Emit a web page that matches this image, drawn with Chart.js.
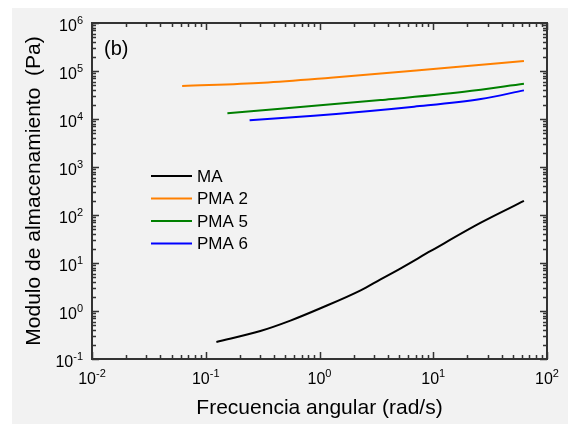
<!DOCTYPE html>
<html>
<head>
<meta charset="utf-8">
<script src="https://cdn.jsdelivr.net/npm/chart.js@4.4.1/dist/chart.umd.min.js"></script>
<style>
  html, body { margin: 0; padding: 0; background: #ffffff; }
  canvas { display: block; }
</style>
</head>
<body>
<canvas id="storageChart" width="568" height="424"></canvas>
<script>
// Data (log-log)
const freqMA   = [0.124, 0.302, 0.555, 1.02, 2.30, 3.44, 5.18, 9.51, 26.2, 62.7];
const modMA    = [0.226, 0.383, 0.631, 1.14, 2.69, 4.57, 7.76, 17.8, 69.2, 196];
const freqPMA2 = [0.062, 0.32, 1.25, 13.3, 62.7];
const modPMA2  = [48700, 57000, 72600, 117000, 161000];
const freqPMA5 = [0.155, 0.453, 3.44, 18.7, 62.7];
const modPMA5  = [13100, 16400, 24900, 37100, 54400];
const freqPMA6 = [0.243, 0.891, 6.78, 26.2, 62.7];
const modPMA6  = [9380, 11700, 18100, 26100, 39500];

const seriesLabels = ['MA', 'PMA 2', 'PMA 5', 'PMA 6'];
const seriesColors = ['#000000', '#ff8000', '#008000', '#0000ff'];
const xDecades = [-2, -1, 0, 1, 2];
const yDecades = [-1, 0, 1, 2, 3, 4, 5, 6];

const FONT = '"Liberation Sans", Arial, sans-serif';

function toPoints(xs, ys) {
    return xs.map((x, i) => ({x: x, y: ys[i]}));
}

// background: white margin, grey figure panel
const backgroundPlugin = {
    id: 'figBackground',
    beforeDraw(chart) {
        const ctx = chart.ctx;
        ctx.save();
        ctx.fillStyle = '#ffffff';
        ctx.fillRect(0, 0, chart.width, chart.height);
        ctx.fillStyle = '#f2f2f2';
        ctx.fillRect(12, 8, chart.width - 12, chart.height - 8);
        ctx.restore();
    }
};

function drawPow(ctx, exp, x, y, align) {
    ctx.font = '16px ' + FONT;
    const wBase = ctx.measureText('10').width;
    ctx.font = '11px ' + FONT;
    const wExp = ctx.measureText(String(exp)).width;
    const total = wBase + wExp;
    let left = x;
    if (align === 'center') left = x - total / 2;
    if (align === 'right') left = x - total;
    ctx.textAlign = 'left';
    ctx.textBaseline = 'alphabetic';
    ctx.font = '16px ' + FONT;
    ctx.fillText('10', left, y);
    ctx.font = '11px ' + FONT;
    ctx.fillText(String(exp), left + wBase, y - 7);
}

// frame, inward ticks, tick labels, titles, panel label and legend
const axesPlugin = {
    id: 'axesDecor',
    afterDraw(chart) {
        const ctx = chart.ctx;
        const a = chart.chartArea;
        const xs = chart.scales.x;
        const ys = chart.scales.y;
        ctx.save();

        ctx.strokeStyle = '#333333';
        ctx.lineWidth = 2;
        ctx.strokeRect(a.left, a.top, a.right - a.left, a.bottom - a.top);

        ctx.lineWidth = 1.5;
        ctx.beginPath();
        xDecades.forEach(d => {
            for (let k = 1; k <= 9; k++) {
                const v = k * Math.pow(10, d);
                if (v > xs.max * 1.0001) break;
                const px = Math.round(xs.getPixelForValue(v)) + 0.5;
                const len = k === 1 ? 7 : 4;
                ctx.moveTo(px, a.bottom); ctx.lineTo(px, a.bottom - len);
                ctx.moveTo(px, a.top); ctx.lineTo(px, a.top + len);
            }
        });
        yDecades.forEach(d => {
            for (let k = 1; k <= 9; k++) {
                const v = k * Math.pow(10, d);
                if (v > ys.max * 1.0001) break;
                const py = Math.round(ys.getPixelForValue(v)) + 0.5;
                const len = k === 1 ? 7 : 4;
                ctx.moveTo(a.left, py); ctx.lineTo(a.left + len, py);
                ctx.moveTo(a.right, py); ctx.lineTo(a.right - len, py);
            }
        });
        ctx.stroke();

        ctx.fillStyle = '#000000';
        xDecades.forEach(d => {
            drawPow(ctx, d, xs.getPixelForValue(Math.pow(10, d)), a.bottom + 25, 'center');
        });
        yDecades.forEach(d => {
            drawPow(ctx, d, a.left - 9, ys.getPixelForValue(Math.pow(10, d)) + 8, 'right');
        });

        ctx.font = '21px ' + FONT;
        ctx.textAlign = 'center';
        ctx.textBaseline = 'alphabetic';
        ctx.fillText('Frecuencia angular (rad/s)', (a.left + a.right) / 2, 414);

        ctx.save();
        ctx.translate(40, (a.top + a.bottom) / 2);
        ctx.rotate(-Math.PI / 2);
        ctx.fillText('Modulo de almacenamiento  (Pa)', 0, 0);
        ctx.restore();

        ctx.textAlign = 'left';
        ctx.font = '20px ' + FONT;
        ctx.fillText('(b)', 104, 55);

        // legend
        ctx.font = '17px ' + FONT;
        ctx.textBaseline = 'middle';
        chart.data.datasets.forEach((ds, i) => {
            const y = 176 + i * 22.5;
            ctx.strokeStyle = ds.borderColor;
            ctx.lineWidth = 2;
            ctx.beginPath();
            ctx.moveTo(151, y);
            ctx.lineTo(192, y);
            ctx.stroke();
            ctx.fillStyle = '#000000';
            ctx.fillText(ds.label, 197, y + 1);
        });

        ctx.restore();
    }
};

const datasets = [
    toPoints(freqMA, modMA),
    toPoints(freqPMA2, modPMA2),
    toPoints(freqPMA5, modPMA5),
    toPoints(freqPMA6, modPMA6)
].map((pts, i) => ({
    label: seriesLabels[i],
    data: pts,
    borderColor: seriesColors[i],
    backgroundColor: seriesColors[i],
    borderWidth: 2,
    pointRadius: 0,
    fill: false,
    cubicInterpolationMode: 'monotone'
}));

const hiddenAxis = {
    type: 'logarithmic',
    ticks: { display: false },
    grid: { display: false, drawTicks: false },
    border: { display: false }
};

new Chart(document.getElementById('storageChart').getContext('2d'), {
    type: 'line',
    data: { datasets: datasets },
    options: {
        responsive: false,
        animation: false,
        layout: { padding: { left: 92, right: 21, top: 23, bottom: 65 } },
        plugins: {
            legend: { display: false },
            tooltip: { enabled: false }
        },
        scales: {
            x: Object.assign({}, hiddenAxis, { min: 0.01, max: 100 }),
            y: Object.assign({}, hiddenAxis, { min: 0.1, max: 1e6 })
        }
    },
    plugins: [backgroundPlugin, axesPlugin]
});
</script>
</body>
</html>
